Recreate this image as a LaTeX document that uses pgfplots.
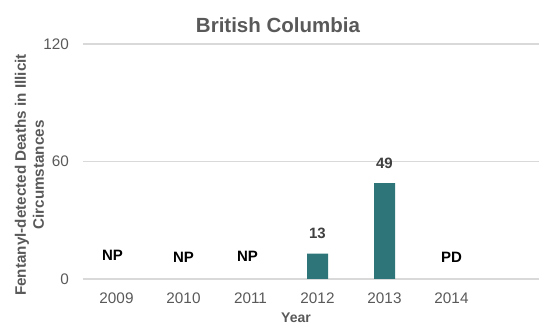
\documentclass[border=0pt]{standalone}
\usepackage{fontspec}
\setmainfont{Liberation Sans}
\usepackage{pgfplots}
\pgfplotsset{compat=1.18}
\definecolor{barc}{RGB}{46,117,122}
\definecolor{gridc}{RGB}{217,217,217}
\definecolor{txt}{RGB}{89,89,89}
\definecolor{lab}{RGB}{64,64,64}
\begin{document}
\begin{tikzpicture}[x=1pt,y=1pt]
\path[use as bounding box] (0,0) rectangle (539,326);
\begin{axis}[
  at={(83pt,47pt)}, anchor=south west,
  scale only axis, width=456pt, height=235pt,
  xmin=-0.5, xmax=6.306, ymin=0, ymax=120,
  ytick={0,60,120},
  xtick={0,1,2,3,4,5},
  xticklabels={2009,2010,2011,2012,2013,2014},
  ymajorgrids, grid style={gridc, line width=1.3pt},
  axis line style={draw=none},
  major tick length=0pt,
  /pgf/number format/assume math mode=true,
  tick label style={font=\fontsize{15.3}{17}\selectfont, text=txt},
  yticklabel style={anchor=east, inner sep=0pt, xshift=-14pt},
  xticklabel style={anchor=north, inner sep=0pt, yshift=-13.5pt},
  clip=false,
]
\addplot[ybar, bar width=21pt, fill=barc, draw=none,
  nodes near coords,
  nodes near coords style={font=\bfseries\fontsize{15}{16}\selectfont, text=lab, anchor=center, yshift=20pt}]
  coordinates {(3,13) (4,49)};
\addplot[only marks, mark=*, mark size=0pt, mark options={draw=none, fill=none},
  point meta=explicit symbolic,
  nodes near coords,
  nodes near coords style={font=\bfseries\fontsize{15}{16}\selectfont, text=black, anchor=center}]
  coordinates {(-0.06,12) [NP] (1.0,11) [NP] (1.955,11.7) [NP] (5.0,11) [PD]};
\end{axis}
\node[anchor=base, font=\bfseries\fontsize{20.5}{24}\selectfont, text=txt] at (278,293) {British Columbia};
\node[anchor=base, font=\bfseries\fontsize{14}{16}\selectfont, text=txt] at (296,3) {Year};
\node[rotate=90, align=center, font=\bfseries\fontsize{15.2}{18}\selectfont, text=txt] at (29.5,151) {Fentanyl-detected Deaths in Illicit\\Circumstances};
\end{tikzpicture}
\end{document}
